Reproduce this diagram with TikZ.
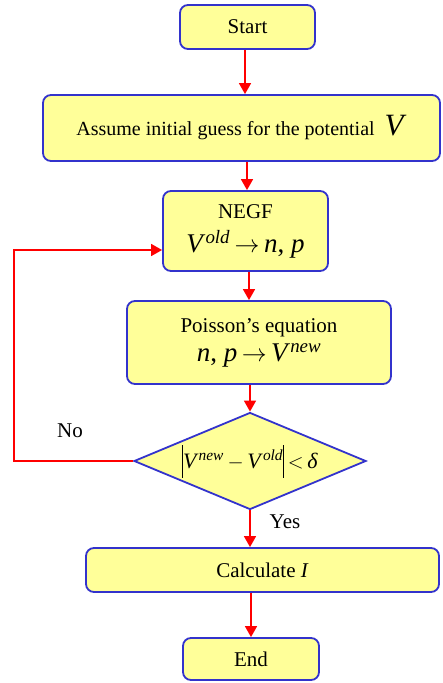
\documentclass[tikz,border=0pt]{standalone}
\usepackage{fontspec}
\setmainfont{Liberation Serif}
\usetikzlibrary{shapes.geometric,arrows.meta,calc}
\definecolor{boxfill}{HTML}{FFFF99}
\definecolor{boxline}{HTML}{3333CC}
\definecolor{arrred}{HTML}{FF0000}
\newcommand{\vi}[1]{\textit{#1}}
\newcommand{\sups}[1]{\textsuperscript{\textit{#1}}}
\newcommand{\vbar}{\rule[-9pt]{0.9pt}{33pt}}
\begin{document}
\begin{tikzpicture}[x=1pt,y=-1pt,
  every node/.style={font=\fontsize{21}{24}\selectfont},
  proc/.style={draw=boxline,fill=boxfill,line width=1.8pt,rounded corners=8pt,
    inner sep=0pt,align=center},
  decis/.style={draw=boxline,fill=boxfill,line width=1.8pt,shape=diamond,
    inner sep=0pt,minimum width=232pt,minimum height=97pt,aspect=2.39},
  arr/.style={color=arrred,line width=1.4pt,-{Triangle[width=12pt,length=11pt]}},
  lbl/.style={inner sep=0pt}]
\useasboundingbox (0,0) rectangle (442,683);
\node[proc,minimum width=135pt,minimum height=44pt] (start) at (247.5,27) {Start};
\node[proc,minimum width=397pt,minimum height=66pt,font=\fontsize{20}{24}\selectfont] (assume) at (241.5,128)
  {Assume initial guess for the potential \ {\fontsize{31}{31}\selectfont\vi{V}}};
\node[proc,minimum width=165pt,minimum height=80pt] (negf) at (245.5,231)
  {NEGF\\[10pt]{\fontsize{27}{28}\selectfont\vi{V}\sups{old}\,$\rightarrow$\,\vi{n}, \vi{p}}};
\node[proc,minimum width=264pt,minimum height=83pt] (poisson) at (259,342.5)
  {Poisson’s equation\\[5pt]{\fontsize{27}{28}\selectfont\vi{n}, \vi{p}\,$\rightarrow$\,\vi{V}\sups{new}}};
\node[decis] (dia) at (250,461)
  {\fontsize{22}{24}\selectfont\vbar\vi{V}\sups{new}\,$-$\,\vi{V}\sups{old}\vbar\,$<$\,\vi{δ}};
\node[proc,minimum width=353pt,minimum height=44pt] (calc) at (262.5,570) {Calculate \vi{I}};
\node[proc,minimum width=136pt,minimum height=42pt] (end) at (251,659) {End};
\node[lbl] (no) at (70,431) {No};
\node[lbl] (yes) at (285,522) {Yes};
\coordinate (lp) at (14,461);
\draw[arr] ([xshift=-2.5pt]start.south) -- ([xshift=-2.5pt]start.south |- assume.north);
\draw[arr] ([xshift=1.5pt]assume.south -| negf.north) -- ([xshift=1.5pt]negf.north);
\draw[arr] ([xshift=3.5pt]negf.south) -- ([xshift=3.5pt]negf.south |- poisson.north);
\draw[arr] (poisson.south -| dia.north) -- (dia.north);
\draw[arr] (dia.south) -- (dia.south |- calc.north);
\draw[arr] (calc.south -| end.north) -- (end.north);
\draw[arr] (dia.west) -- (lp) |- ([yshift=-19pt]negf.west);
\end{tikzpicture}
\end{document}
